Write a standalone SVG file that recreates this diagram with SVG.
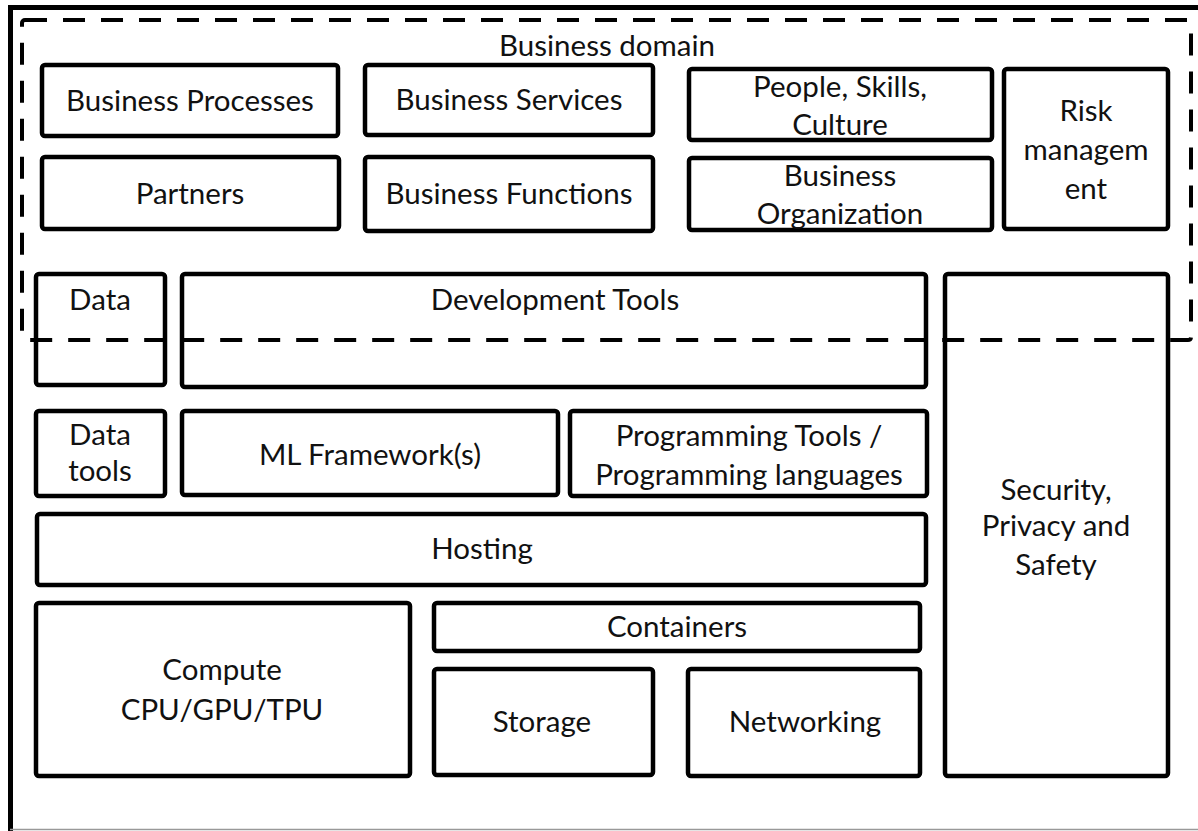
<svg xmlns="http://www.w3.org/2000/svg" width="1198" height="831" viewBox="0 0 1198 831">
  <style>
    .box { fill: none; stroke: #000; stroke-width: 4.5; }
    .lbl { font-family: Lato, "Open Sans", "Liberation Sans", sans-serif; font-size: 29.5px; fill: #111; text-anchor: middle; }
    .frame { fill: none; stroke: #000; stroke-width: 5; }
    .domain { fill: none; stroke: #000; stroke-width: 4; stroke-dasharray: 22 16; }
  </style>
  <rect width="1198" height="831" fill="#fff"/>

  <!-- outer frame -->
  <g id="frame">
    <path class="frame" d="M10.5 831 V7.5 H1198"/>
    <line x1="10" y1="829.5" x2="1198" y2="829.5" stroke="#999" stroke-width="1.5"/>
  </g>

  <!-- business domain boxes -->
  <g id="business-processes">
    <rect class="box" x="42" y="65" width="296" height="71" rx="3"/>
    <text class="lbl" x="190" y="111">Business Processes</text>
  </g>
  <g id="partners">
    <rect class="box" x="42" y="157" width="297" height="72" rx="3"/>
    <text class="lbl" x="190" y="204">Partners</text>
  </g>
  <g id="business-services">
    <rect class="box" x="365" y="65" width="288" height="70" rx="3"/>
    <text class="lbl" x="509" y="110">Business Services</text>
  </g>
  <g id="business-functions">
    <rect class="box" x="365" y="157" width="288" height="74" rx="3"/>
    <text class="lbl" x="509" y="204">Business Functions</text>
  </g>
  <g id="people-skills-culture">
    <rect class="box" x="689" y="69" width="303" height="71" rx="3"/>
    <text class="lbl" x="840" y="97">People, Skills,</text>
    <text class="lbl" x="840" y="135">Culture</text>
  </g>
  <g id="business-organization">
    <rect class="box" x="689" y="158" width="303" height="72" rx="3"/>
    <text class="lbl" x="840" y="186">Business</text>
    <text class="lbl" x="840" y="224">Organization</text>
  </g>
  <g id="risk-management">
    <rect class="box" x="1004" y="69" width="164" height="160" rx="3"/>
    <text class="lbl" x="1086" y="121">Risk</text>
    <text class="lbl" x="1086" y="160">managem</text>
    <text class="lbl" x="1086" y="199">ent</text>
  </g>

  <!-- technology stack -->
  <g id="data">
    <rect class="box" x="36" y="274" width="129" height="111" rx="3"/>
    <text class="lbl" x="100" y="310">Data</text>
  </g>
  <g id="development-tools">
    <rect class="box" x="182" y="274" width="744" height="113" rx="3"/>
    <text class="lbl" x="555" y="310">Development Tools</text>
  </g>
  <g id="security-privacy-safety">
    <rect class="box" x="945" y="274" width="223" height="502" rx="3"/>
    <text class="lbl" x="1056" y="500">Security,</text>
    <text class="lbl" x="1056" y="536">Privacy and</text>
    <text class="lbl" x="1056" y="575">Safety</text>
  </g>
  <g id="data-tools">
    <rect class="box" x="36" y="411" width="129" height="85" rx="3"/>
    <text class="lbl" x="100" y="445">Data</text>
    <text class="lbl" x="100" y="481">tools</text>
  </g>
  <g id="ml-frameworks">
    <rect class="box" x="182" y="411" width="376" height="84" rx="3"/>
    <text class="lbl" x="370" y="465">ML Framework(s)</text>
  </g>
  <g id="programming-tools">
    <rect class="box" x="570" y="411" width="357" height="85" rx="3"/>
    <text class="lbl" x="749" y="446">Programming Tools /</text>
    <text class="lbl" x="749" y="485">Programming languages</text>
  </g>
  <g id="hosting">
    <rect class="box" x="37" y="514" width="889" height="71" rx="3"/>
    <text class="lbl" x="482" y="559">Hosting</text>
  </g>
  <g id="compute">
    <rect class="box" x="36" y="603" width="374" height="173" rx="3"/>
    <text class="lbl" x="222" y="680">Compute</text>
    <text class="lbl" x="222" y="720">CPU/GPU/TPU</text>
  </g>
  <g id="containers">
    <rect class="box" x="434" y="603" width="486" height="48" rx="3"/>
    <text class="lbl" x="677" y="637">Containers</text>
  </g>
  <g id="storage">
    <rect class="box" x="434" y="669" width="219" height="106" rx="3"/>
    <text class="lbl" x="542" y="732">Storage</text>
  </g>
  <g id="networking">
    <rect class="box" x="688" y="669" width="232" height="107" rx="3"/>
    <text class="lbl" x="805" y="732">Networking</text>
  </g>

  <!-- business domain boundary -->
  <g id="business-domain">
    <rect class="domain" x="22" y="20" width="1169" height="320" rx="3"/>
    <text class="lbl" x="607" y="56">Business domain</text>
  </g>

  <g id="connectors"></g>
</svg>
